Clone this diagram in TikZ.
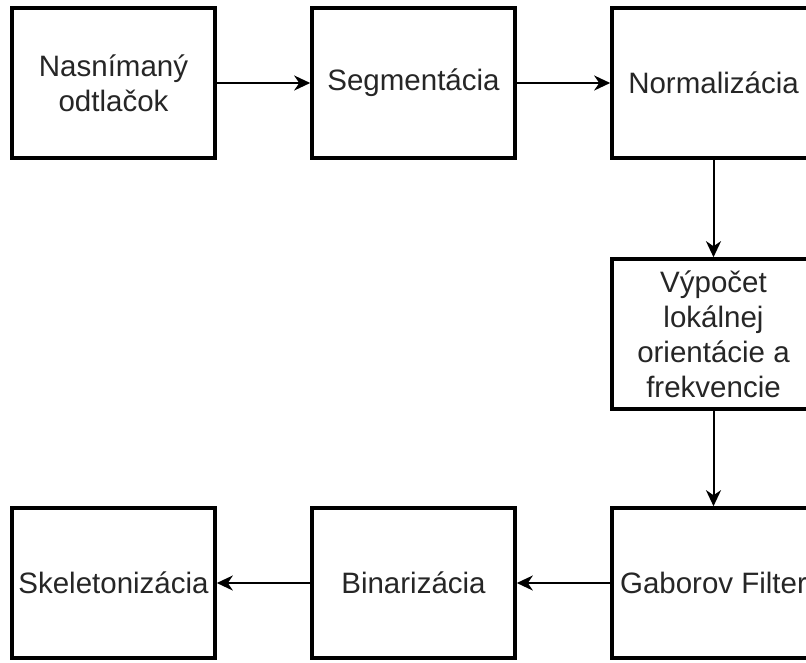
\documentclass[tikz,border=0pt]{standalone}
\usepackage{fontspec}
\setmainfont{Liberation Sans}
\usetikzlibrary{arrows.meta}
\begin{document}
\begin{tikzpicture}[x=1pt,y=-1pt,
  stepbox/.style={draw=black, line width=3.6pt, fill=white, minimum width=203pt, minimum height=150pt,
    inner sep=0pt, align=center, font=\fontsize{29.5pt}{35pt}\selectfont, text=black!85},
  conn/.style={line width=2pt, -{Stealth[length=16pt,width=15pt,inset=5pt]}}]
\useasboundingbox (0,0) rectangle (806,662);
\clip (0,0) rectangle (806,662);
\node[stepbox] (a) at (113.5,83) {Nasnímaný\\odtlačok};
\node[stepbox] (b) at (413.5,83) {Segmentácia};
\node[stepbox] (c) at (713.5,83) {Normalizácia};
\node[stepbox] (d) at (713.5,334) {Výpočet\\lokálnej\\orientácie a\\frekvencie};
\node[stepbox] (e) at (713.5,583) {Gaborov Filter};
\node[stepbox] (f) at (413.5,583) {Binarizácia};
\node[stepbox] (g) at (113.5,583) {Skeletonizácia};
\draw[conn] (a) -- (b);
\draw[conn] (b) -- (c);
\draw[conn] (c) -- (d);
\draw[conn] (d) -- (e);
\draw[conn] (e) -- (f);
\draw[conn] (f) -- (g);
\end{tikzpicture}
\end{document}
